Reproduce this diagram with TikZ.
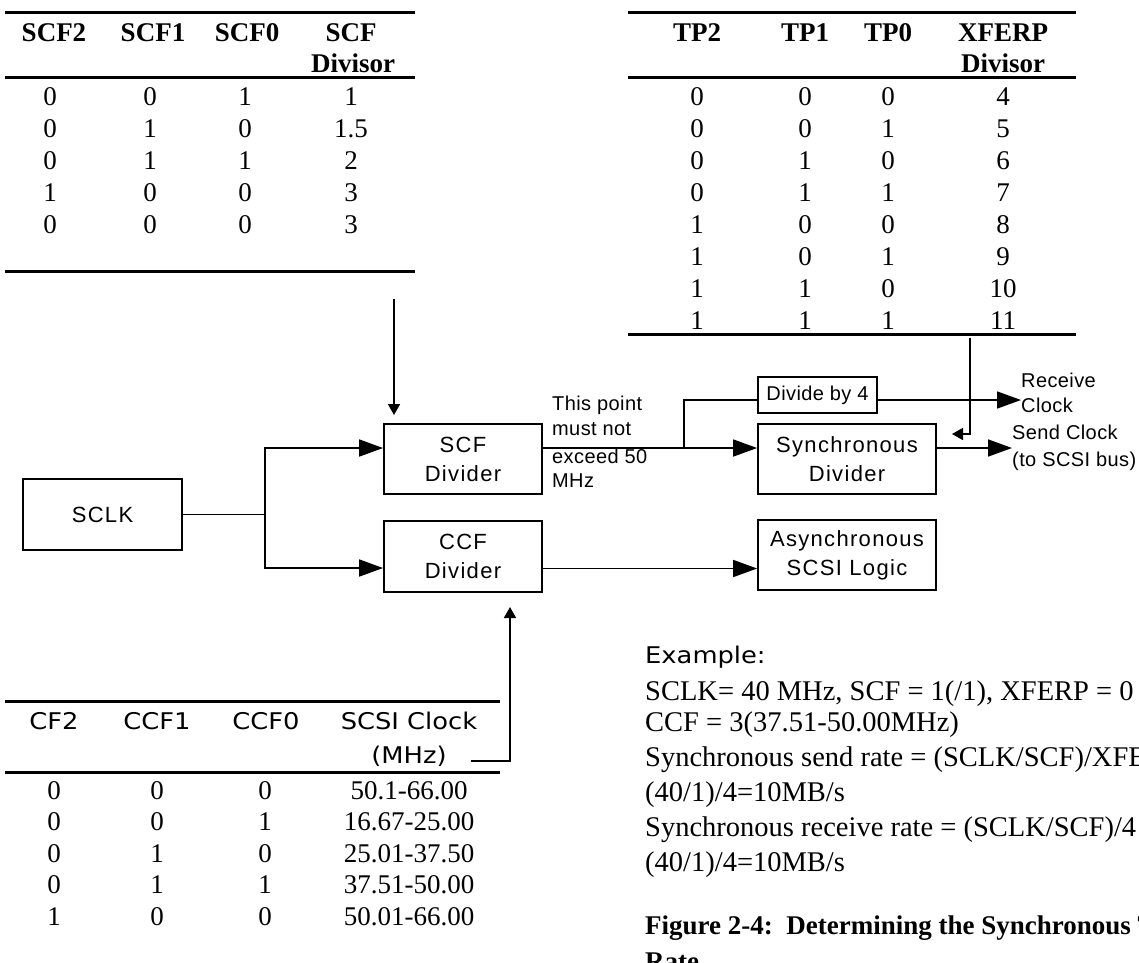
\documentclass[tikz,border=0pt]{standalone}
\usepackage{fontspec}
\setmainfont{Liberation Serif}
\newfontfamily\boxfont[LetterSpace=6]{Liberation Sans}
\newfontfamily\labfont[LetterSpace=2]{Liberation Sans}
\newfontfamily\hfont[FakeStretch=1.12]{DejaVu Sans}
\usetikzlibrary{arrows.meta}
\begin{document}
\begin{tikzpicture}[x=1pt,y=-1pt,
  conn/.style={line width=1.7pt},
  bigarr/.style={-{Triangle[length=24pt,width=17pt]}},
  smallarr/.style={-{Triangle[length=11pt,width=12pt]}},
  blk/.style={draw,line width=1.8pt,inner sep=0pt,align=center,
    font=\boxfont\fontsize{22}{29}\selectfont},
  tabrule/.style={line width=3pt},
  cell/.style={anchor=base,inner sep=0pt,font=\fontsize{27}{32}\selectfont},
  hcell/.style={anchor=base,inner sep=0pt,font=\bfseries\fontsize{27}{32}\selectfont},
  ccell/.style={anchor=base,inner sep=0pt,font=\hfont\fontsize{23}{28}\selectfont},
  lab/.style={inner sep=0pt,align=left,font=\labfont\fontsize{20}{25}\selectfont},
  exline/.style={anchor=base west,inner sep=0pt,font=\fontsize{28.5}{34}\selectfont}]

\clip (0,0) rectangle (1139,962);

% ---------- SCF table ----------
\draw[tabrule] (5,12) -- (415,12);
\draw[tabrule] (5,77) -- (415,77);
\draw[tabrule] (5,271) -- (415,271);
\node[hcell] (sh1) at (54,41) {SCF2};
\node[hcell] (sh2) at (153,41) {SCF1};
\node[hcell] (sh3) at (247,41) {SCF0};
\node[hcell] (sh4) at (351,41) {SCF};
\node[hcell] (sh5) at (353,72) {Divisor};
\foreach \a/\b/\c/\d [count=\i] in {0/0/1/1, 0/1/0/1.5, 0/1/1/2, 1/0/0/3, 0/0/0/3}{
  \node[cell] (sr\i a) at (50,{73+32*\i}) {\a};
  \node[cell] (sr\i b) at (150,{73+32*\i}) {\b};
  \node[cell] (sr\i c) at (245,{73+32*\i}) {\c};
  \node[cell] (sr\i d) at (351,{73+32*\i}) {\d};
}

% ---------- TP table ----------
\draw[tabrule] (628,12) -- (1076,12);
\draw[tabrule] (628,77) -- (1076,77);
\draw[tabrule] (628,334) -- (1076,334);
\node[hcell] (th1) at (697,41) {TP2};
\node[hcell] (th2) at (805,41) {TP1};
\node[hcell] (th3) at (888,41) {TP0};
\node[hcell] (th4) at (1003,41) {XFERP};
\node[hcell] (th5) at (1003,72) {Divisor};
\foreach \a/\b/\c/\d [count=\i] in {0/0/0/4, 0/0/1/5, 0/1/0/6, 0/1/1/7, 1/0/0/8, 1/0/1/9, 1/1/0/10, 1/1/1/11}{
  \node[cell] (tr\i a) at (697,{73+32*\i}) {\a};
  \node[cell] (tr\i b) at (805,{73+32*\i}) {\b};
  \node[cell] (tr\i c) at (888,{73+32*\i}) {\c};
  \node[cell] (tr\i d) at (1003,{73+32*\i}) {\d};
}

% ---------- CCF table ----------
\draw[tabrule] (5,701) -- (500,701);
\draw[tabrule] (5,772) -- (500,772);
\node[ccell] (ch1) at (54,729) {CF2};
\node[ccell] (ch2) at (157,729) {CCF1};
\node[ccell] (ch3) at (266,729) {CCF0};
\node[ccell] (ch4) at (409,729) {SCSI Clock};
\node[ccell] (ch5) at (409,763) {(MHz)};
\foreach \a/\b/\c/\d [count=\i] in {0/0/0/50.1-66.00, 0/0/1/16.67-25.00, 0/1/0/25.01-37.50, 0/1/1/37.51-50.00, 1/0/0/50.01-66.00}{
  \node[cell] (cr\i a) at (54,{767.5+31.5*\i}) {\a};
  \node[cell] (cr\i b) at (157,{767.5+31.5*\i}) {\b};
  \node[cell] (cr\i c) at (265,{767.5+31.5*\i}) {\c};
  \node[cell] (cr\i d) at (409,{767.5+31.5*\i}) {\d};
}

% ---------- blocks ----------
\node[blk,minimum width=159pt,minimum height=71pt] (sclk) at (102.5,514.5) {SCLK};
\node[blk,minimum width=158pt,minimum height=70pt] (scf) at (463,459) {SCF\\Divider};
\node[blk,minimum width=158pt,minimum height=71pt] (ccf) at (463,556.5) {CCF\\Divider};
\node[blk,minimum width=178pt,minimum height=70pt] (sync) at (847,459) {Synchronous\\Divider};
\node[blk,minimum width=178pt,minimum height=70pt] (async) at (847,555) {Asynchronous\\SCSI Logic};
\node[blk,minimum width=119pt,minimum height=36pt,font=\labfont\fontsize{20}{24}\selectfont] (div4) at (817.5,395) {Divide by 4};

% ---------- labels ----------
\node[lab,anchor=north west] (note) at (552,396) {This point\\must not\\[3pt]exceed 50\\[-1pt]MHz};
\node[lab,anchor=west] (rcvlab) at (1021,393) {Receive\\Clock};
\node[lab,anchor=west,font=\labfont\fontsize{20}{27}\selectfont] (sndlab) at (1012,448) {Send Clock\\(to SCSI bus)};

% ---------- connectors ----------
\coordinate (split) at (265,514.5);
\draw[conn] (sclk.east) -- (split);
\draw[conn,bigarr] (split) |- ([yshift=11pt]scf.west);
\draw[conn,bigarr] (split) |- ([yshift=-11.5pt]ccf.west);

\draw[conn,bigarr] ([yshift=11pt]scf.east) coordinate (so) -- (so -| sync.west);
\coordinate (br) at (684,448);
\draw[conn] (br) |- ([yshift=-5pt]div4.west);
\draw[conn,bigarr] ([yshift=-5pt]div4.east) coordinate (do) -- (do -| rcvlab.west);
\draw[conn,bigarr] ([yshift=11pt]sync.east) coordinate (yo) -- (yo -| sndlab.west);
\draw[conn,bigarr] ([yshift=-12pt]ccf.east) coordinate (co) -- (co -| async.west);

\coordinate (scfsrc) at (394,299);
\coordinate (scfin) at (394,415);
\draw[conn,smallarr] (scfsrc) -- (scfin);

\coordinate (tpsrc) at (970,338);
\coordinate (tpin) at (952,434);
\draw[conn,smallarr] (tpsrc) |- (tpin);

\coordinate (ccfsrc) at (471,761);
\coordinate (ccfin) at (510,607);
\draw[conn,smallarr] (ccfsrc) -| (ccfin);

% ---------- example text ----------
\node[exline,font=\hfont\fontsize{23}{28}\selectfont] (ex0) at (645,663) {Example:};
\node[exline] (ex1) at (645,700) {SCLK= 40 MHz, SCF = 1(/1), XFERP = 0};
\node[exline] (ex2) at (645,731) {CCF = 3(37.51-50.00MHz)};
\node[exline] (ex3) at (645,766) {Synchronous send rate = (SCLK/SCF)/XFERP};
\node[exline] (ex4) at (645,801.5) {(40/1)/4=10MB/s};
\node[exline] (ex5) at (645,836.5) {Synchronous receive rate = (SCLK/SCF)/4};
\node[exline] (ex6) at (645,871) {(40/1)/4=10MB/s};
\node[exline,font=\bfseries\fontsize{27}{34}\selectfont] (fig1) at (645,934) {Figure 2-4:\ \ Determining the Synchronous Transfer};
\node[exline,font=\bfseries\fontsize{27}{34}\selectfont] (fig2) at (645,970) {Rate};
\end{tikzpicture}
\end{document}
